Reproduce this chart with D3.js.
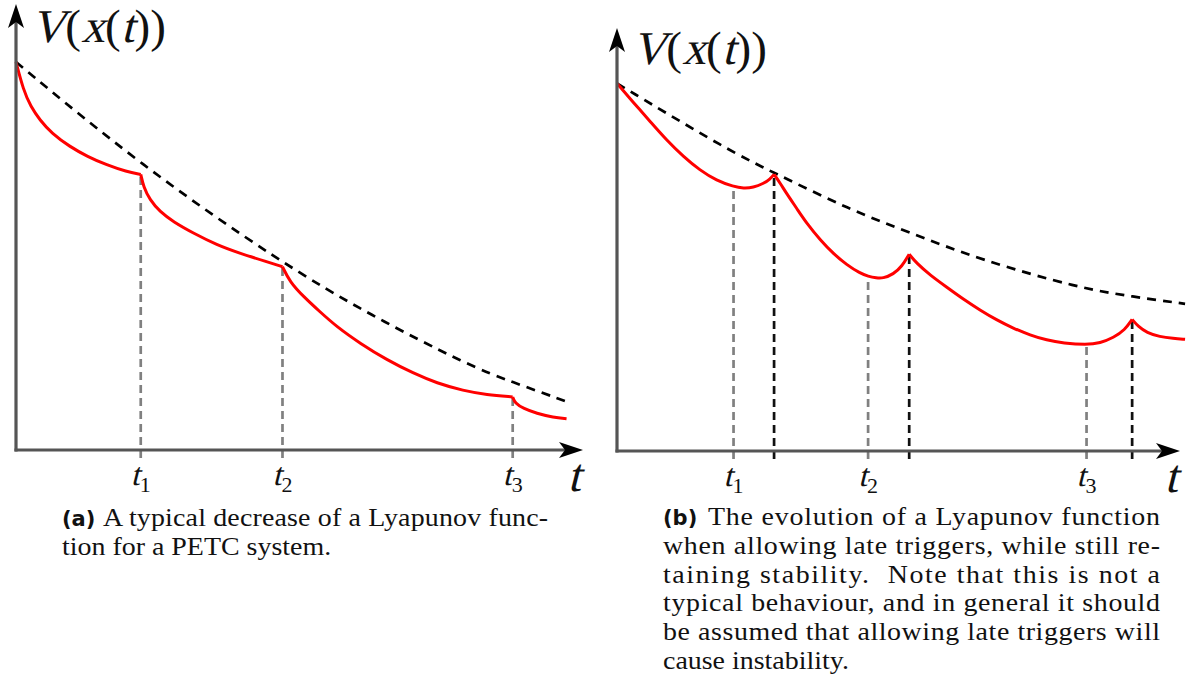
<!DOCTYPE html>
<html>
<head>
<meta charset="utf-8">
<script src="https://cdn.jsdelivr.net/npm/d3@7"></script>
<style>
  body { margin: 0; background: #fff; }
  svg { display: block; }
</style>
</head>
<body>
<svg id="fig" width="1187" height="677"></svg>
<script>
// ---------- Panel (a): typical PETC decrease ----------
const aTriggers = [2.20, 4.70, 8.76];
const aTickSubs = ["1", "2", "3"];
// exponential-type bound on V (dashed)
const aBound = [[0, 8.70], [2.19, 6.39], [4.69, 4.19], [6.24, 3.03], [8.01, 1.88], [8.74, 1.53], [9.68, 1.10]];
// V(x(t)) between triggers
const aSeg1 = [[0, 8.70], [0.13, 8.07], [0.26, 7.70], [0.42, 7.40], [0.63, 7.10], [0.95, 6.80], [1.26, 6.58], [1.60, 6.39], [1.95, 6.24], [2.20, 6.18]];
const aSeg2 = [[2.20, 6.18], [2.25, 5.90], [2.36, 5.61], [2.54, 5.34], [2.77, 5.12], [3.13, 4.86], [3.54, 4.60], [3.95, 4.41], [4.42, 4.22], [4.70, 4.11]];
const aSeg3 = [[4.70, 4.11], [4.83, 3.77], [5.07, 3.44], [5.36, 3.10], [5.66, 2.76], [6.07, 2.39], [6.54, 2.02], [7.01, 1.72], [7.42, 1.50], [7.89, 1.33], [8.30, 1.24], [8.76, 1.19]];
const aSeg4 = [[8.76, 1.19], [8.80, 1.05], [8.95, 0.93], [9.18, 0.82], [9.48, 0.73], [9.71, 0.70]];

// ---------- Panel (b): late triggers ----------
const bTriggers = [2.07, 4.46, 8.34];
const bLateTriggers = [2.79, 5.19, 9.15];
const bTickSubs = ["1", "2", "3"];
const bBound = [[0, 8.69], [2.01, 7.08], [2.79, 6.58], [4.14, 5.70], [5.17, 5.18], [6.45, 4.52], [8.22, 3.85], [9.15, 3.65], [10.09, 3.48]];
const bSeg1 = [[0, 8.69], [0.29, 8.24], [0.59, 7.79], [0.88, 7.35], [1.18, 6.96], [1.47, 6.64], [1.77, 6.39], [2.07, 6.25], [2.25, 6.21], [2.42, 6.23], [2.60, 6.32], [2.72, 6.43], [2.79, 6.54]];
const bSeg2 = [[2.79, 6.54], [2.90, 6.33], [3.01, 6.09], [3.19, 5.74], [3.37, 5.38], [3.61, 4.99], [3.84, 4.67], [4.08, 4.40], [4.32, 4.20], [4.46, 4.13], [4.61, 4.09], [4.72, 4.08], [4.91, 4.18], [5.06, 4.36], [5.19, 4.65]];
const bSeg3 = [[5.19, 4.65], [5.32, 4.44], [5.56, 4.16], [5.86, 3.87], [6.15, 3.59], [6.45, 3.33], [6.74, 3.10], [7.04, 2.90], [7.34, 2.74], [7.63, 2.62], [7.93, 2.55], [8.34, 2.51], [8.58, 2.55], [8.82, 2.68], [9.02, 2.86], [9.15, 3.11]];
const bSeg4 = [[9.15, 3.11], [9.26, 2.94], [9.41, 2.80], [9.64, 2.70], [9.88, 2.66], [10.09, 2.64]];

// ---------- Captions ----------
const capATag = "(a)";
const capALines = ["A typical decrease of a Lyapunov func-", "tion for a PETC system."];
const capBTag = "(b)";
const capBLines = [
  "The evolution of a Lyapunov function",
  "when allowing late triggers, while still re-",
  "taining stability.  Note that this is not a",
  "typical behaviour, and in general it should",
  "be assumed that allowing late triggers will",
  "cause instability."
];

const SERIF = "Liberation Serif";
const SANS_BOLD = "DejaVu Sans";
const INK = "#111";
const svg = d3.select("#fig");

// Math-style label made of pieces; italic pieces are slanted upright glyphs.
// parts: [text, italic, fontSize, dy]
function mathLabel(g, x, y, parts, opts) {
  const grp = g.append("g");
  const nodes = parts.map(([s, it, size, dy]) => {
    const t = grp.append("text")
      .attr("font-family", SERIF)
      .attr("font-size", size)
      .attr("fill", INK)
      .text(s);
    return { t, it, dy: dy || 0, w: t.node().getComputedTextLength() };
  });
  const natural = d3.sum(nodes, n => n.w);
  const gap = opts.width ? (opts.width - natural) / Math.max(1, nodes.length - 1) : (opts.gap || 0);
  const total = natural + gap * (nodes.length - 1);
  let cx = opts.anchor === "middle" ? x - total / 2 : x;
  nodes.forEach(n => {
    n.t.attr("transform", `translate(${cx},${y + n.dy})` + (n.it ? " skewX(-14)" : ""));
    cx += n.w + gap;
  });
}

// stealth-style arrowhead pointing along (dx, dy)
function arrowHead(g, tipX, tipY, dx, dy) {
  const L = 24, W = 8, notch = 6;
  const px = -dy, py = dx;
  const pts = [
    [tipX, tipY],
    [tipX - dx * L + px * W, tipY - dy * L + py * W],
    [tipX - dx * (L - notch), tipY - dy * (L - notch)],
    [tipX - dx * L - px * W, tipY - dy * L - py * W]
  ];
  g.append("path")
    .attr("d", "M" + pts.map(p => p.join(",")).join("L") + "Z")
    .attr("fill", "#000");
}

function drawPanel(p) {
  const x = d3.scaleLinear().domain([0, 10]).range(p.xRange);
  const y = d3.scaleLinear().domain([0, 10]).range(p.yRange);
  const g = svg.append("g");

  // V(x(t)) at any time, linear between samples
  const allV = p.segments.flat().slice().sort((a, b) => a[0] - b[0]);
  const bis = d3.bisector(d => d[0]).left;
  const vAt = t => {
    const i = Math.max(1, Math.min(allV.length - 1, bis(allV, t)));
    const a = allV[i - 1], b = allV[i];
    if (b[0] === a[0]) return b[1];
    return a[1] + (b[1] - a[1]) * (t - a[0]) / (b[0] - a[0]);
  };

  // vertical guides at the trigger instants
  p.guides.forEach(gd => {
    gd.times.forEach(t => {
      g.append("line")
        .attr("x1", x(t)).attr("x2", x(t))
        .attr("y1", y(0) + 8).attr("y2", y(vAt(t)))
        .attr("stroke", gd.color)
        .attr("stroke-width", 2.7)
        .attr("stroke-dasharray", "8,5");
    });
  });

  const line = d3.line().x(d => x(d[0])).y(d => y(d[1])).curve(d3.curveBasis);

  // decay bound
  g.append("path")
    .attr("d", line(p.bound))
    .attr("fill", "none")
    .attr("stroke", "#000")
    .attr("stroke-width", 2.7)
    .attr("stroke-dasharray", "9,7");

  // Lyapunov function
  p.segments.forEach(s => {
    g.append("path")
      .attr("d", line(s))
      .attr("fill", "none")
      .attr("stroke", "#ff0000")
      .attr("stroke-width", 3)
      .attr("stroke-linejoin", "round");
  });

  // axes
  g.append("line")
    .attr("x1", x(0) - 1.5).attr("x2", x(10) - 12)
    .attr("y1", y(0)).attr("y2", y(0))
    .attr("stroke", "#555").attr("stroke-width", 3.2);
  g.append("line")
    .attr("x1", x(0)).attr("x2", x(0))
    .attr("y1", y(0) + 1.5).attr("y2", y(10) + 12)
    .attr("stroke", "#555").attr("stroke-width", 3.2);
  arrowHead(g, x(10), y(0), 1, 0);
  arrowHead(g, x(0), y(10), 0, -1);

  // tick labels t_k
  p.ticks.forEach((t, i) => {
    mathLabel(g, x(t), y(0) + 35, [["t", true, 32], [p.tickSubs[i], false, 22, 7]], { anchor: "middle", gap: 0 });
  });

  // axis names
  mathLabel(g, x(10) - 9, y(0) + 41, [["t", true, 47]], { anchor: "middle" });
  mathLabel(g, p.vLabel[0], p.vLabel[1],
    [["V", true, 47], ["(", false, 47], ["x", true, 47], ["(", false, 47], ["t", true, 47], [")", false, 47], [")", false, 47]],
    { width: 135 });
}

drawPanel({
  xRange: [16, 583], yRange: [450, 4],
  bound: aBound,
  segments: [aSeg1, aSeg2, aSeg3, aSeg4],
  guides: [{ times: aTriggers, color: "#808080" }],
  ticks: aTriggers, tickSubs: aTickSubs,
  vLabel: [31, 42]
});

drawPanel({
  xRange: [617, 1180], yRange: [451, 28],
  bound: bBound,
  segments: [bSeg1, bSeg2, bSeg3, bSeg4],
  guides: [{ times: bTriggers, color: "#808080" }, { times: bLateTriggers, color: "#111" }],
  ticks: bTriggers, tickSubs: bTickSubs,
  vLabel: [632, 64]
});

// captions: glyphs widened slightly, all lines but the last justified
const STRETCH = 1.14;
function caption(tag, lines, x0, textX, x1, y0, lh) {
  svg.append("text")
    .attr("x", x0).attr("y", y0)
    .attr("font-family", SANS_BOLD)
    .attr("font-weight", "bold")
    .attr("font-size", 21)
    .attr("fill", INK)
    .text(tag);
  lines.forEach((s, i) => {
    const sx = i === 0 ? textX : x0;
    const t = svg.append("text")
      .attr("transform", `translate(${sx},${y0 + i * lh}) scale(${STRETCH},1)`)
      .attr("font-family", SERIF)
      .attr("font-size", 24.5)
      .attr("fill", INK)
      .attr("xml:space", "preserve")
      .text(s);
    if (i < lines.length - 1) {
      t.attr("textLength", (x1 - sx) / STRETCH).attr("lengthAdjust", "spacing");
    }
  });
}

caption(capATag, capALines, 62, 103, 548, 526, 28.5);
caption(capBTag, capBLines, 663, 708, 1160, 525, 28.8);
</script>
</body>
</html>
